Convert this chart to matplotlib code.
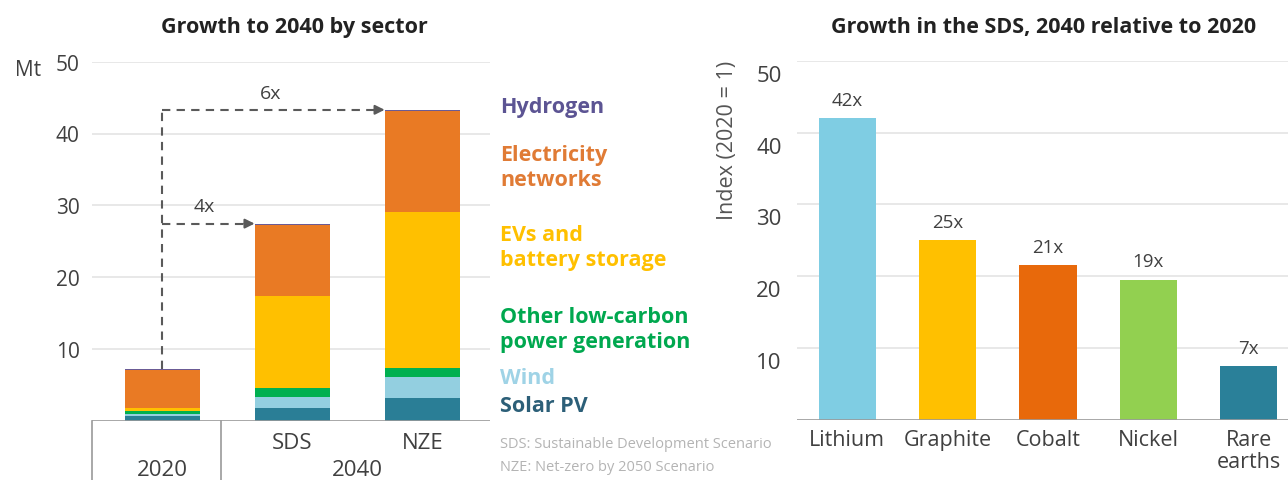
import numpy as np
import matplotlib.pyplot as plt
import matplotlib.transforms as mtransforms

plt.rcParams['font.family'] = ['Open Sans', 'DejaVu Sans']

# 数据: 左图 (Mt)
cases = ['2020', 'SDS', 'NZE']
sectors = ['Solar PV', 'Wind', 'Other low-carbon\npower generation',
           'EVs and\nbattery storage', 'Electricity\nnetworks', 'Hydrogen']
solar_pv = [0.6, 1.7, 3.1]
wind = [0.4, 1.6, 3.0]
other_low_carbon = [0.3, 1.3, 1.3]
evs_storage = [0.4, 12.8, 21.6]
networks = [5.4, 9.9, 14.1]
hydrogen = [0.1, 0.15, 0.2]
sector_colors = ['#2a7e96', '#93cfe0', '#00b050', '#ffc000', '#e97a24', '#6b5b95']
legend_colors = ['#2c5f78', '#9fd3e6', '#00a84f', '#ffc000', '#e07b35', '#5c5493']
growth_labels = ['4x', '6x']

# 数据: 右图 (2020 = 1)
minerals = ['Lithium', 'Graphite', 'Cobalt', 'Nickel', 'Rare\nearths']
index_2040 = [42, 25, 21.5, 19.5, 7.4]
index_labels = ['42x', '25x', '21x', '19x', '7x']
mineral_colors = ['#7fcde3', '#ffc000', '#e8690b', '#92d050', '#2a8099']

W, H = 1288, 481
fig = plt.figure(figsize=(W / 100, H / 100), dpi=100)


def fx(px):
    return px / W


def fy(py):
    return 1 - py / H


grid_c = '#e4e4e4'
text_c = '#404040'

# ---------- 左图 ----------
ax = fig.add_axes([fx(92), fy(421.7), fx(490 - 92), (421.7 - 62.7) / H])
x = np.arange(len(cases))
bw = 0.58
bottom = np.zeros(len(cases))
for vals, c in zip([solar_pv, wind, other_low_carbon, evs_storage, networks, hydrogen], sector_colors):
    ax.bar(x, vals, bw, bottom=bottom, color=c, zorder=3)
    bottom += np.array(vals)
totals = bottom

ax.set_xlim(-0.54, 2.52)
ax.set_ylim(0, 50)
ax.set_yticks([10, 20, 30, 40, 50])
ax.tick_params(axis='y', length=0, labelsize=15, labelcolor=text_c, pad=9)
ax.set_xticks([])
for s in ax.spines.values():
    s.set_visible(False)
ax.yaxis.grid(True, color=grid_c, lw=1.2, zorder=0)
ax.axhline(0, color='#9a9a9a', lw=1.2, zorder=4)

# 分类轴
tr = mtransforms.blended_transform_factory(ax.transData, ax.transAxes)
for xs in [-0.54, 0.45]:
    ax.plot([xs, xs], [0, -0.17], color='#9a9a9a', lw=1.2, transform=tr, clip_on=False)
ax.text(1, -0.062, 'SDS', transform=tr, ha='center', va='center', fontsize=16, color=text_c)
ax.text(2, -0.062, 'NZE', transform=tr, ha='center', va='center', fontsize=16, color=text_c)
ax.text(0, -0.135, '2020', transform=tr, ha='center', va='center', fontsize=16, color=text_c)
ax.text(1.5, -0.135, '2040', transform=tr, ha='center', va='center', fontsize=16, color=text_c)

# 增长箭头
arrow_c = '#5a5a5a'
ax.plot([0, 0], [totals[0], totals[2]], color=arrow_c, lw=1.5, ls=(0, (4, 3)), zorder=5)
for i, lab, tx in [(1, growth_labels[0], 0.32), (2, growth_labels[1], 0.83)]:
    ax.plot([0, i - bw / 2 - 0.07], [totals[i], totals[i]], color=arrow_c, lw=1.5,
            ls=(0, (4, 3)), zorder=5)
    ax.annotate('', xy=(i - bw / 2, totals[i]), xytext=(i - bw / 2 - 0.08, totals[i]),
                arrowprops=dict(arrowstyle='-|>', color=arrow_c, lw=1.5,
                                mutation_scale=14, shrinkA=0, shrinkB=0), zorder=6)
    ax.text(tx, totals[i] + 2.4, lab, ha='center', va='center', fontsize=14, color=text_c)

fig.text(fx(28), fy(70), 'Mt', ha='center', va='center', fontsize=15, color=text_c)
fig.text(fx(294), fy(28), 'Growth to 2040 by sector', ha='center', va='center',
         fontsize=15.5, fontweight='bold', color='#222222')

# 图例文字
legend_y = [407, 378, 330, 248, 168.5, 107]
for lab, c, ly in zip(sectors, legend_colors, legend_y):
    fig.text(fx(500), fy(ly), lab, ha='left', va='center', fontsize=15.5,
             fontweight='bold', color=c, linespacing=1.25)

fig.text(fx(500), fy(444), 'SDS: Sustainable Development Scenario', ha='left', va='center',
         fontsize=10.5, color='#b4b4b4')
fig.text(fx(500), fy(468), 'NZE: Net-zero by 2050 Scenario', ha='left', va='center',
         fontsize=10.5, color='#b4b4b4')

# ---------- 右图 ----------
ax2 = fig.add_axes([fx(797), fy(420.5), fx(W - 797), (420.5 - 62) / H])
xm = np.arange(len(minerals))
ax2.bar(xm, index_2040, 0.57, color=mineral_colors, zorder=3)
for xi, v, lab in zip(xm, index_2040, index_labels):
    ax2.text(xi, v + 1.3, lab, ha='center', va='bottom', fontsize=13.5, color=text_c)

ax2.set_xlim(-0.5, 4.39)
ax2.set_ylim(0, 50)
ax2.set_yticks([10, 20, 30, 40, 50])
ax2.tick_params(axis='y', length=0, labelsize=16, labelcolor=text_c, pad=11)
ax2.set_xticks(xm)
ax2.set_xticklabels(minerals, fontsize=15.5, color=text_c, linespacing=1.05)
ax2.tick_params(axis='x', length=0, pad=7)
off = mtransforms.ScaledTranslation(0, -0.12, fig.dpi_scale_trans)
for t in ax2.get_yticklabels():
    t.set_transform(t.get_transform() + off)
for s in ax2.spines.values():
    s.set_visible(False)
ax2.yaxis.grid(True, color=grid_c, lw=1.2, zorder=0)
ax2.axhline(0, color='#9a9a9a', lw=1.2, zorder=4)

fig.text(fx(728), fy(140), 'Index (2020 = 1)', rotation=90, ha='center', va='center',
         fontsize=15.5, color='#555555')
fig.text(fx(1044), fy(28), 'Growth in the SDS, 2040 relative to 2020', ha='center',
         va='center', fontsize=15.5, fontweight='bold', color='#222222')

fig.savefig('out.png', dpi=100)
